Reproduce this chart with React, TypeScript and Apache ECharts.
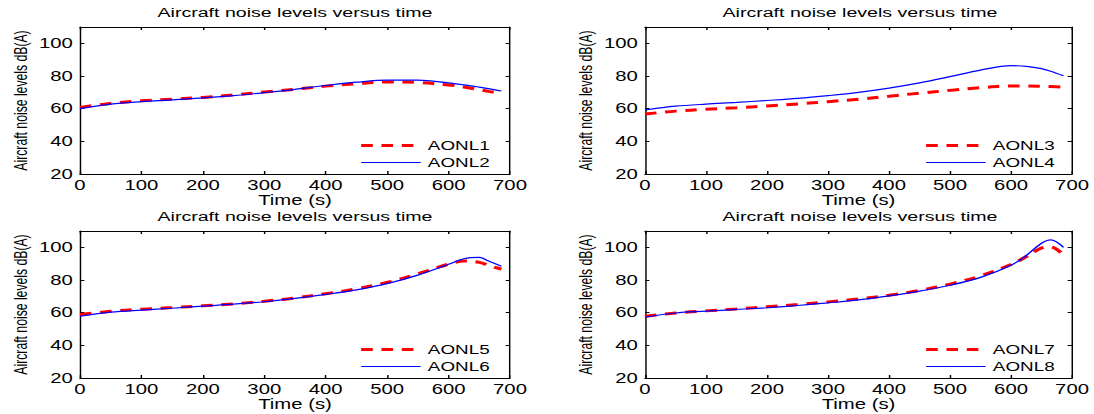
import React, { useEffect, useRef } from "react";
import * as echarts from "echarts";

// ---- data ----
const TIME = [0, 50, 100, 150, 200, 250, 300, 350, 400, 450, 500, 550, 600, 625, 650, 665, 686];

const AONL1 = [60.8, 63.2, 64.8, 65.8, 66.9, 68.4, 70.2, 71.9, 73.8, 75.3, 76.3, 76.0, 74.5, 73.3, 71.6, 70.6, 69.3];
const AONL2 = [60.0, 62.8, 64.3, 65.4, 66.6, 68.0, 69.8, 71.8, 74.2, 76.2, 77.5, 77.5, 75.8, 74.6, 73.2, 72.3, 70.8];
const AONL3 = [56.7, 58.5, 59.6, 60.6, 61.6, 62.9, 64.3, 65.8, 67.6, 69.5, 71.2, 72.8, 73.9, 73.9, 73.7, 73.5, 73.1];
const AONL4 = [59.2, 61.5, 62.8, 63.8, 65.0, 66.3, 68.0, 70.0, 72.6, 75.8, 79.6, 83.6, 86.3, 85.9, 84.5, 82.9, 80.1];
const AONL5 = [58.9, 60.8, 62.1, 63.1, 64.2, 65.4, 67.0, 69.0, 71.6, 74.6, 78.5, 83.8, 89.7, 91.6, 90.8, 89.0, 86.6];
const AONL6 = [57.8, 60.3, 61.6, 62.7, 64.0, 65.2, 66.7, 68.7, 71.2, 74.0, 77.8, 83.0, 89.6, 93.0, 93.8, 91.6, 88.4];
const AONL7 = [57.8, 59.8, 61.1, 62.3, 63.6, 65.0, 66.6, 68.4, 70.7, 73.6, 77.5, 82.5, 89.5, 94.3, 99.6, 100.3, 95.3];
const AONL8 = [57.2, 59.8, 60.9, 62.0, 63.0, 64.4, 66.0, 67.8, 70.3, 73.2, 76.8, 81.6, 89.0, 95.0, 102.5, 104.6, 100.0];

const SERIES_NAMES = ["AONL1", "AONL2", "AONL3", "AONL4", "AONL5", "AONL6", "AONL7", "AONL8"];
const SERIES_VALUES = [AONL1, AONL2, AONL3, AONL4, AONL5, AONL6, AONL7, AONL8];

const TITLE = "Aircraft noise levels versus time";
const X_NAME = "Time (s)";
const Y_NAME = "Aircraft noise levels dB(A)";

// ---- layout ----
const K = 1.45; // horizontal stretch of the original figure
const W = 1094;
const H = 414;
const FONT = "'Liberation Sans', Arial, Helvetica, sans-serif";
const FRAMES = [
  { left: 80, top: 27 },
  { left: 645, top: 27 },
  { left: 80, top: 231 },
  { left: 645, top: 231 },
];
const FRAME_W = 430;
const FRAME_H = 147;

function buildOption() {
  const grid: any[] = [];
  const xAxis: any[] = [];
  const yAxis: any[] = [];
  const title: any[] = [];
  const legend: any[] = [];
  const series: any[] = [];

  FRAMES.forEach((f, i) => {
    grid.push({ left: f.left / K, top: f.top, width: FRAME_W / K, height: FRAME_H });
    const xBase = {
      type: "value",
      gridIndex: i,
      min: 0,
      max: 700,
      interval: 100,
      splitLine: { show: false },
      axisLine: { show: true, onZero: false, lineStyle: { color: "#000", width: 1 } },
      axisTick: { show: true, inside: true, length: 3, lineStyle: { color: "#000" } },
    };
    xAxis.push({
      ...xBase,
      position: "bottom",
      axisLabel: { color: "#000", fontSize: 14, margin: 4, fontFamily: FONT },
      name: X_NAME,
      nameLocation: "middle",
      nameGap: 17,
      nameTextStyle: { color: "#000", fontSize: 14, fontFamily: FONT },
    });
    xAxis.push({ ...xBase, position: "top", axisLabel: { show: false } });
    const yBase = {
      type: "value",
      gridIndex: i,
      min: 20,
      max: 110,
      interval: 20,
      splitLine: { show: false },
      axisLine: { show: true, onZero: false, lineStyle: { color: "#000", width: 1 } },
      axisTick: { show: true, inside: true, length: 3, lineStyle: { color: "#000" } },
    };
    yAxis.push({
      ...yBase,
      position: "left",
      axisLabel: { color: "#000", fontSize: 14, margin: 5, fontFamily: FONT, showMaxLabel: false },
      name: Y_NAME,
      nameLocation: "middle",
      nameGap: 35,
      nameTextStyle: { color: "#000", fontSize: 12.2, fontFamily: FONT },
    });
    yAxis.push({ ...yBase, position: "right", axisLabel: { show: false } });

    title.push({
      text: TITLE,
      left: (f.left + FRAME_W / 2) / K,
      top: f.top - 21,
      textAlign: "center",
      padding: 0,
      textStyle: { color: "#000", fontSize: 13.5, fontWeight: "normal", fontFamily: FONT },
    });

    const n1 = SERIES_NAMES[2 * i];
    const n2 = SERIES_NAMES[2 * i + 1];
    legend.push({
      orient: "vertical",
      left: (f.left + FRAME_W - 151) / K,
      top: f.top + 112,
      padding: 0,
      itemWidth: 41,
      itemHeight: 12,
      itemGap: 4,
      data: [n1, n2],
      lineStyle: { width: "inherit" },
      itemStyle: { color: "rgba(0,0,0,0)", borderColor: "rgba(0,0,0,0)", borderWidth: 0, opacity: 0 },
      textStyle: { color: "#000", fontSize: 13, fontFamily: FONT },
    });

    series.push({
      name: n1,
      type: "line",
      xAxisIndex: 2 * i,
      yAxisIndex: 2 * i,
      data: TIME.map((t, j) => [t, SERIES_VALUES[2 * i][j]]),
      smooth: 0.35,
      symbol: "none",
      lineStyle: { color: "#ff0000", width: 3, type: [8, 6] },
      itemStyle: { color: "#ff0000" },
      z: 2,
    });
    series.push({
      name: n2,
      type: "line",
      xAxisIndex: 2 * i,
      yAxisIndex: 2 * i,
      data: TIME.map((t, j) => [t, SERIES_VALUES[2 * i + 1][j]]),
      smooth: 0.35,
      symbol: "none",
      lineStyle: { color: "#0000ff", width: 1.2, type: "solid" },
      itemStyle: { color: "#0000ff" },
      z: 3,
    });
  });

  return {
    animation: false,
    backgroundColor: "#fff",
    textStyle: { fontFamily: FONT },
    title,
    legend,
    grid,
    xAxis,
    yAxis,
    series,
  };
}

export default function App() {
  const ref = useRef<HTMLDivElement>(null);
  useEffect(() => {
    if (!ref.current) return;
    const chart = echarts.init(ref.current, undefined, { renderer: "svg" });
    chart.setOption(buildOption() as any);
    return () => chart.dispose();
  }, []);
  return (
    <div
      ref={ref}
      style={{
        position: "absolute",
        left: 0,
        top: 0,
        width: W / K,
        height: H,
        transform: `scaleX(${K})`,
        transformOrigin: "0 0",
        background: "#fff",
      }}
    />
  );
}
